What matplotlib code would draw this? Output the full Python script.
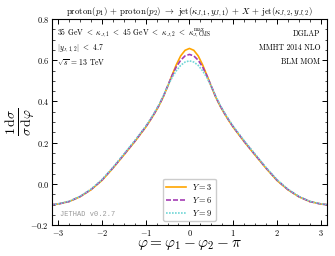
import numpy as np
import matplotlib
matplotlib.use("Agg")
import matplotlib.pyplot as plt
from matplotlib.ticker import MultipleLocator

plt.rcParams["font.family"] = "serif"
plt.rcParams["font.serif"] = ["cmr10", "DejaVu Serif"]
plt.rcParams["mathtext.fontset"] = "cm"
plt.rcParams["axes.formatter.use_mathtext"] = True

# azimuthal distance phi and the three rapidity-interval curves
phi = [-3.1416, -3.0, -2.75, -2.5, -2.25, -2.0, -1.75, -1.5, -1.25, -1.0,
       -0.9, -0.8, -0.7, -0.6, -0.5, -0.4, -0.3, -0.2, -0.1, 0.0,
       0.1, 0.2, 0.3, 0.4, 0.5, 0.6, 0.7, 0.8, 0.9, 1.0,
       1.25, 1.5, 1.75, 2.0, 2.25, 2.5, 2.75, 3.0, 3.1416]

dist_Y3 = [-0.100, -0.097, -0.085, -0.062, -0.028, 0.017, 0.076, 0.140, 0.205, 0.275,
           0.307, 0.341, 0.378, 0.421, 0.472, 0.526, 0.578, 0.621, 0.648, 0.657,
           0.648, 0.621, 0.578, 0.526, 0.472, 0.421, 0.378, 0.341, 0.307, 0.275,
           0.205, 0.140, 0.076, 0.017, -0.028, -0.062, -0.085, -0.097, -0.100]

dist_Y6 = [-0.100, -0.097, -0.085, -0.061, -0.027, 0.019, 0.078, 0.142, 0.207, 0.277,
           0.309, 0.343, 0.380, 0.423, 0.474, 0.524, 0.568, 0.600, 0.621, 0.628,
           0.621, 0.600, 0.568, 0.524, 0.474, 0.423, 0.380, 0.343, 0.309, 0.277,
           0.207, 0.142, 0.078, 0.019, -0.027, -0.061, -0.085, -0.097, -0.100]

dist_Y9 = [-0.100, -0.096, -0.084, -0.060, -0.025, 0.021, 0.080, 0.145, 0.210, 0.280,
           0.312, 0.346, 0.383, 0.426, 0.473, 0.515, 0.549, 0.575, 0.591, 0.597,
           0.591, 0.575, 0.549, 0.515, 0.473, 0.426, 0.383, 0.346, 0.312, 0.280,
           0.210, 0.145, 0.080, 0.021, -0.025, -0.060, -0.084, -0.096, -0.100]

fig = plt.figure(figsize=(3.35, 2.56), dpi=100)
ax = fig.add_axes([0.155, 0.12, 0.821, 0.806])

ax.plot(phi, dist_Y3, color="#ffa500", lw=1.2, ls="-", label=r"$Y = 3$")
ax.plot(phi, dist_Y6, color="#a43cb4", lw=1.2, ls=(0, (3, 1.2)), label=r"$Y = 6$")
ax.plot(phi, dist_Y9, color="#6fd6d6", lw=1.2, ls=(0, (1, 0.8)), label=r"$Y = 9$")

ax.set_xlim(-np.pi, np.pi)
ax.set_ylim(-0.2, 0.8)
ax.xaxis.set_major_locator(MultipleLocator(1))
ax.xaxis.set_minor_locator(MultipleLocator(0.25))
ax.yaxis.set_major_locator(MultipleLocator(0.2))
ax.yaxis.set_minor_locator(MultipleLocator(0.05))
ax.tick_params(which="both", direction="in", top=True, right=True, labelsize=6, pad=2)
ax.tick_params(which="major", length=3.5, width=0.7)
ax.tick_params(which="minor", length=1.8, width=0.5)
for s in ax.spines.values():
    s.set_linewidth(0.8)

ax.set_title(r"proton$(p_1)$ + proton$(p_2)$ $\rightarrow$ jet$(\kappa_{J,1}, y_{J,1})$ + $X$ + jet$(\kappa_{J,2}, y_{J,2})$",
             fontsize=6.4, pad=3)
ax.set_xlabel(r"$\varphi = \varphi_1 - \varphi_2 - \pi$", fontsize=11, labelpad=0)
ax.set_ylabel(r"$\frac{1\,\mathrm{d}\sigma}{\sigma\,\mathrm{d}\varphi}$", fontsize=14)
ax.yaxis.set_label_coords(-0.055, 0.5)

ax.text(0.02, 0.93, r"35 GeV $<$ $\kappa_{J,1}$ $<$ 45 GeV $<$ $\kappa_{J,2}$ $<$ $\kappa_{J,\mathrm{CMS}}^{\mathrm{max}}$",
        transform=ax.transAxes, fontsize=5.5, va="center", ha="left")
ax.text(0.02, 0.86, r"$|y_{J,1,2}|$ $<$ 4.7", transform=ax.transAxes, fontsize=5.5, va="center")
ax.text(0.02, 0.79, r"$\sqrt{s}$ = 13 TeV", transform=ax.transAxes, fontsize=5.5, va="center")
ax.text(0.975, 0.93, "DGLAP", transform=ax.transAxes, fontsize=5.5, va="center", ha="right")
ax.text(0.975, 0.86, "MMHT 2014 NLO", transform=ax.transAxes, fontsize=5.5, va="center", ha="right")
ax.text(0.975, 0.79, "BLM MOM", transform=ax.transAxes, fontsize=5.5, va="center", ha="right")
ax.text(0.03, 0.035, "JETHAD v0.2.7", transform=ax.transAxes, fontsize=5,
        family="Liberation Mono", color="#999999", va="bottom")

ax.legend(loc="lower center", fontsize=6, frameon=True, handlelength=2.3,
          borderpad=0.4, labelspacing=0.35, framealpha=1, edgecolor="#cccccc")

fig.savefig("out.png", dpi=100)
